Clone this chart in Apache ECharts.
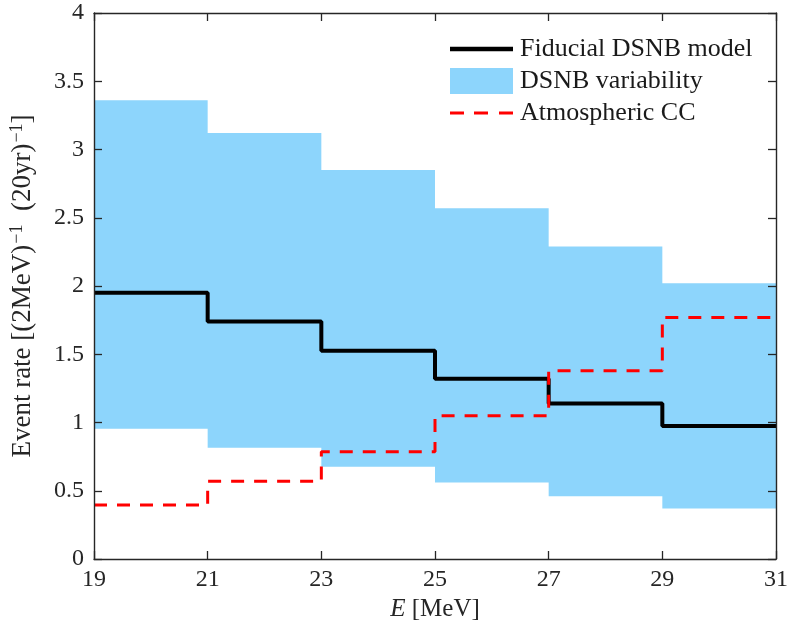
<!DOCTYPE html>
<html>
<head>
<meta charset="utf-8">
<title>DSNB event rate</title>
<script src="https://cdn.jsdelivr.net/npm/echarts@6/dist/echarts.min.js"></script>
<style>
  html, body { margin: 0; padding: 0; background: #fff; }
  #chart { width: 791px; height: 630px; }
</style>
</head>
<body>
<div id="chart"></div>
<script>
// Energy bin edges [MeV]
const binEdges = [19, 21, 23, 25, 27, 29, 31];
// Fiducial DSNB model, events per bin
const dsnbModel = [1.95, 1.74, 1.525, 1.32, 1.14, 0.975];
// DSNB variability band (lower / upper)
const dsnbLow  = [0.955, 0.815, 0.676, 0.561, 0.46, 0.37];
const dsnbHigh = [3.36, 3.12, 2.85, 2.57, 2.29, 2.02];
// Atmospheric charged-current background
const atmCC = [0.395, 0.57, 0.785, 1.05, 1.38, 1.77];
// Axis ticks
const xTicks = [19, 21, 23, 25, 27, 29, 31];

const FONT = '"Liberation Serif", "Times New Roman", serif';
const AXIS_COLOR = '#262626';
const BAND_COLOR = '#8DD5FC';

// legend glyphs: a solid bar and a three-dash bar
const ICON_SOLID = 'path://M0,0H63V4.5H0Z';
const ICON_DASHED = 'path://M0,0H14V3H0Z M24,0H38V3H24Z M49,0H63V3H49Z';

// histogram-style points: each bin value held until the next edge
function stepPoints(values) {
  const pts = values.map((v, i) => [binEdges[i], v]);
  pts.push([binEdges[binEdges.length - 1], values[values.length - 1]]);
  return pts;
}

// band as rows [x0, x1, lo, hi]
const bandRows = dsnbLow.map((lo, i) => [binEdges[i], binEdges[i + 1], lo, dsnbHigh[i]]);

const chart = echarts.init(document.getElementById('chart'), null, { renderer: 'canvas' });

const boxAxisCommon = {
  axisLine: { show: true, onZero: false, lineStyle: { color: AXIS_COLOR, width: 1.4 } },
  axisTick: { show: true, inside: true, length: 8, lineStyle: { color: AXIS_COLOR, width: 1.3 } },
  splitLine: { show: false },
  z: 10
};

chart.setOption({
  backgroundColor: '#ffffff',
  animation: false,
  textStyle: { fontFamily: FONT },
  grid: { left: 92, right: 10, top: 13, bottom: 71, containLabel: false },
  xAxis: [
    Object.assign({}, boxAxisCommon, {
      type: 'value', min: 19, max: 31, interval: 2, position: 'bottom',
      axisTick: Object.assign({}, boxAxisCommon.axisTick, { customValues: xTicks }),
      axisLabel: { customValues: xTicks, color: AXIS_COLOR, fontSize: 24, fontFamily: FONT, margin: 9 },
      name: '{i|E} [MeV]',
      nameLocation: 'middle',
      nameGap: 30,
      nameTextStyle: {
        color: AXIS_COLOR, fontSize: 25, fontFamily: FONT,
        rich: { i: { fontStyle: 'italic', fontSize: 25, fontFamily: FONT, color: AXIS_COLOR } }
      }
    }),
    Object.assign({}, boxAxisCommon, {
      type: 'value', min: 19, max: 31, interval: 2, position: 'top',
      axisTick: Object.assign({}, boxAxisCommon.axisTick, { customValues: xTicks }),
      axisLabel: { show: false }
    })
  ],
  yAxis: [
    Object.assign({}, boxAxisCommon, {
      type: 'value', min: 0, max: 4, interval: 0.5, position: 'left',
      axisLabel: { color: AXIS_COLOR, fontSize: 24, fontFamily: FONT, margin: 10 },
      name: 'Event rate [(2MeV){s|−1}  (20yr){s|−1}]',
      nameLocation: 'middle',
      nameGap: 56,
      nameTextStyle: {
        color: AXIS_COLOR, fontSize: 27, fontFamily: FONT, lineHeight: 30,
        rich: { s: { fontSize: 18, fontFamily: FONT, color: AXIS_COLOR, lineHeight: 30, verticalAlign: 'top', padding: [0, 0, 12, 1] } }
      }
    }),
    Object.assign({}, boxAxisCommon, {
      type: 'value', min: 0, max: 4, interval: 0.5, position: 'right',
      axisLabel: { show: false }
    })
  ],
  legend: {
    orient: 'vertical',
    left: 450,
    top: 36,
    padding: 0,
    itemWidth: 63,
    itemHeight: 26,
    itemGap: 6,
    symbolKeepAspect: true,
    textStyle: { fontSize: 26, fontFamily: FONT, color: '#1a1a1a', padding: [0, 0, 0, 2] },
    data: [
      { name: 'Fiducial DSNB model', icon: ICON_SOLID, itemStyle: { color: '#000' } },
      { name: 'DSNB variability', icon: 'rect', itemStyle: { color: BAND_COLOR } },
      { name: 'Atmospheric CC', icon: ICON_DASHED, itemStyle: { color: '#ff0000' } }
    ]
  },
  series: [
    {
      name: 'DSNB variability',
      type: 'custom',
      z: 1,
      itemStyle: { color: BAND_COLOR },
      data: bandRows,
      renderItem: function (params, api) {
        // one polygon spanning all bins, so adjacent bins share no seam
        if (params.dataIndex !== 0) return null;
        const upper = [];
        const lower = [];
        bandRows.forEach(function (r) {
          upper.push(api.coord([r[0], r[3]]), api.coord([r[1], r[3]]));
          lower.push(api.coord([r[0], r[2]]), api.coord([r[1], r[2]]));
        });
        return {
          type: 'polygon',
          shape: { points: upper.concat(lower.reverse()) },
          style: { fill: BAND_COLOR, stroke: null }
        };
      }
    },
    {
      name: 'Fiducial DSNB model',
      type: 'line',
      step: 'end',
      z: 3,
      symbol: 'none',
      showSymbol: false,
      lineStyle: { color: '#000', width: 4 },
      itemStyle: { color: '#000' },
      data: stepPoints(dsnbModel)
    },
    {
      name: 'Atmospheric CC',
      type: 'line',
      step: 'end',
      z: 4,
      symbol: 'none',
      showSymbol: false,
      lineStyle: { color: '#ff0000', width: 3, type: [13, 10] },
      itemStyle: { color: '#ff0000' },
      data: stepPoints(atmCC)
    }
  ]
});
</script>
</body>
</html>
